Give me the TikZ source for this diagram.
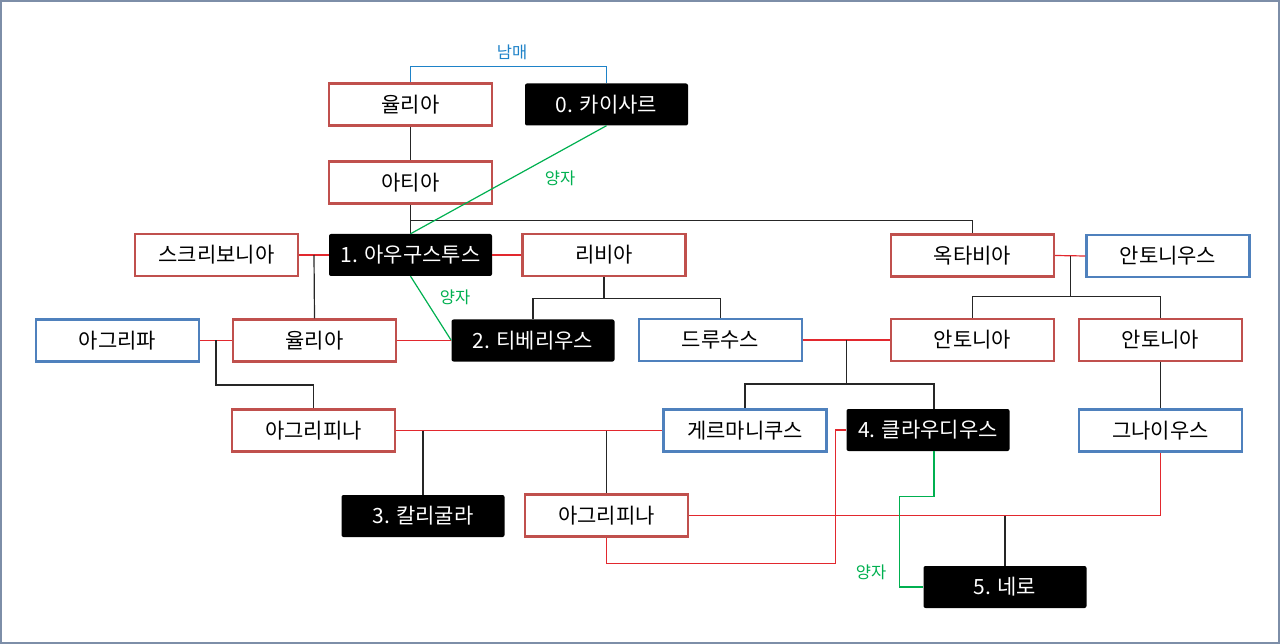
\documentclass[tikz,border=0pt]{standalone}
\usepackage{fontspec}
\setmainfont{Noto Sans CJK KR}
\usetikzlibrary{calc}
\definecolor{boxred}{RGB}{192,80,77}
\definecolor{boxblue}{RGB}{79,129,189}
\definecolor{linered}{RGB}{226,40,46}
\definecolor{linegreen}{RGB}{0,176,80}
\definecolor{lineblue}{RGB}{30,130,200}
\definecolor{frame}{RGB}{125,142,168}
\tikzset{
  base/.style={minimum width=163pt, minimum height=42pt, inner sep=0pt, font=\fontsize{21}{24}\selectfont},
  rbox/.style={base, draw=boxred, line width=2.4pt, fill=white},
  bbox/.style={base, draw=boxblue, line width=2.4pt, fill=white},
  kbox/.style={base, fill=black, text=white, rounded corners=2pt},
  blk/.style={draw=black!85, line width=1.2pt},
  redl/.style={draw=linered, line width=1.2pt},
  grn/.style={draw=linegreen, line width=1.2pt},
  sib/.style={draw=lineblue, line width=1.2pt},
  lbl/.style={font=\fontsize{16.5}{18}\selectfont, inner sep=0pt},
}
\begin{document}
\begin{tikzpicture}[x=1pt,y=-1pt]
\useasboundingbox (0,0) rectangle (1280,644);
\draw[frame, line width=2pt] (1,1) rectangle (1279,643);

\node[rbox] (julia1) at (410.5,104.5) {율리아};
\node[kbox] (caesar) at (606.5,104.5) {0. 카이사르};
\node[rbox] (atia) at (410.5,182.5) {아티아};
\node[rbox] (scrib) at (216.5,255) {스크리보니아};
\node[kbox] (aug) at (410.5,255) {1. 아우구스투스};
\node[rbox] (livia) at (604,255) {리비아};
\node[rbox] (octavia) at (972.5,255.5) {옥타비아};
\node[bbox] (antonius) at (1168,256) {안토니우스};
\node[bbox] (agrippa) at (117.5,340.5) {아그리파};
\node[rbox] (julia2) at (314.5,340.5) {율리아};
\node[kbox] (tiberius) at (533,340.5) {2. 티베리우스};
\node[bbox] (drusus) at (720.5,340) {드루수스};
\node[rbox] (antonia1) at (972.5,340) {안토니아};
\node[rbox] (antonia2) at (1160.5,340) {안토니아};
\node[rbox] (agrippina1) at (313.5,430.5) {아그리피나};
\node[bbox] (germanicus) at (745,430.5) {게르마니쿠스};
\node[kbox] (claudius) at (928,430) {4. 클라우디우스};
\node[bbox] (gnaeus) at (1160.5,430.5) {그나이우스};
\node[kbox] (caligula) at (423,516) {3. 칼리굴라};
\node[rbox] (agrippina2) at (606.5,515.5) {아그리피나};
\node[kbox] (nero) at (1005,587) {5. 네로};

% siblings
\draw[sib] (julia1.north) -- ++(0,-16) -| (caesar.north);
\node[lbl, text=lineblue] (l1) at (512,52) {남매};

% Julia -> Atia -> Augustus
\draw[blk] (julia1.south) -- (atia.north);
\draw[blk] (atia.south) -- (aug.north);
\draw[blk] ($(atia.south)+(0,16)$) -| (octavia.north);

% adoption Caesar -> Augustus
\draw[grn] (caesar.south) -- (aug.north);
\node[lbl, text=linegreen] (l2) at (560,178) {양자};

% Scribonia + Augustus -> Julia
\draw[redl] (scrib.east) -- (aug.west);
\draw[blk] ($(scrib.east)!0.5!(aug.west)$) -- (julia2.north);

% Augustus + Livia
\draw[redl] (aug.east) -- (livia.west);
\draw[blk] (livia.south) -- ++(0,21) coordinate (lv);
\draw[blk] (lv) -| (tiberius.north);
\draw[blk] (lv) -| (drusus.north);

% adoption Augustus -> Tiberius
\draw[grn] (aug.south) -- (tiberius.west);
\node[lbl, text=linegreen] (l3) at (455,297) {양자};

% Agrippa + Julia -> Agrippina
\draw[redl] (agrippa.east) -- (julia2.west);
\draw[blk] ($(agrippa.east)!0.5!(julia2.west)$) -- ++(0,44.5) -| (agrippina1.north);

% Julia + Tiberius
\draw[redl] (julia2.east) -- (tiberius.west);

% Drusus + Antonia
\draw[redl] (drusus.east) -- (antonia1.west);
\draw[blk] ($(drusus.east)!0.5!(antonia1.west)$) -- ++(0,44) coordinate (da);
\draw[blk] (da) -| (germanicus.north);
\draw[blk] (da) -| ([xshift=6]claudius.north);

% Octavia + Antonius
\draw[redl] (octavia.east) -- (antonius.west);
\draw[blk] ($(octavia.east)!0.5!(antonius.west)$) -- ++(0,41) coordinate (oa);
\draw[blk] (oa) -| (antonia1.north);
\draw[blk] (oa) -| (antonia2.north);
\draw[blk] (antonia2.south) -- (gnaeus.north);

% Agrippina + Germanicus
\draw[redl] (agrippina1.east) -- (germanicus.west);
\draw[blk] (caligula.north |- agrippina1.east) -- (caligula.north);
\draw[blk] (agrippina2.north |- agrippina1.east) -- (agrippina2.north);

% Agrippina (younger) + Claudius
\draw[redl] (agrippina2.south) -- ++(0,26) -| ([xshift=-11]claudius.west) -- (claudius.west);

% Agrippina (younger) + Gnaeus -> Nero
\draw[redl] (agrippina2.east) -| (gnaeus.south);
\draw[blk] (nero.north |- agrippina2.east) -- (nero.north);

% adoption Claudius -> Nero
\draw[grn] ([xshift=6]claudius.south) -- ++(0,45) -| ([xshift=-24]nero.west) -- (nero.west);
\node[lbl, text=linegreen] (l4) at (871,572) {양자};
\end{tikzpicture}
\end{document}
